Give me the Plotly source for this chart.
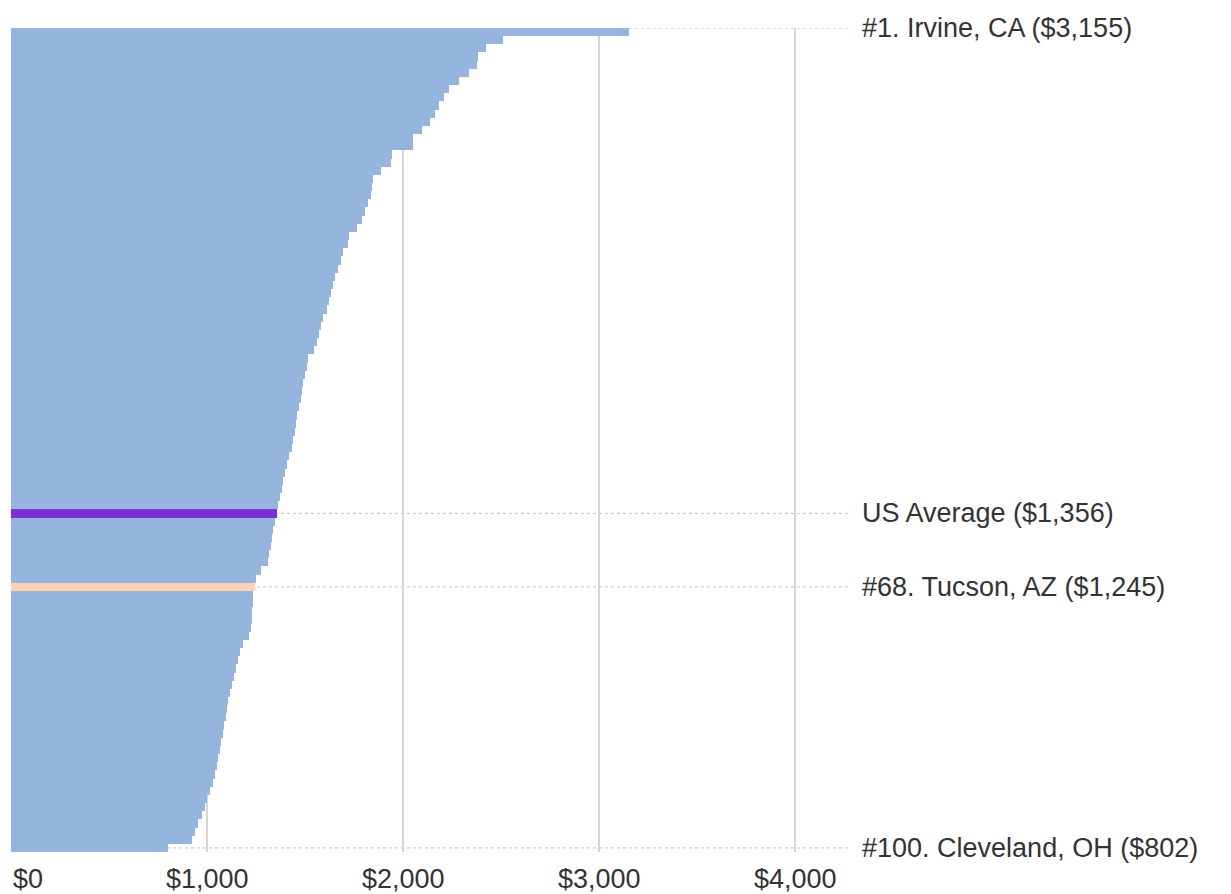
import plotly.graph_objects as go

# Monthly cost by city rank (1 = most expensive), in US dollars
ranks = list(range(1, 101))
costs = [
    3155, 2512, 2422, 2384, 2379, 2338, 2287, 2235, 2209, 2184,
    2163, 2138, 2095, 2053, 2050, 1942, 1940, 1886, 1849, 1843,
    1835, 1823, 1806, 1791, 1764, 1722, 1720, 1696, 1682, 1670,
    1655, 1645, 1633, 1624, 1611, 1594, 1580, 1573, 1560, 1546,
    1517, 1508, 1500, 1491, 1486, 1480, 1471, 1461, 1454, 1447,
    1440, 1432, 1420, 1410, 1398, 1389, 1381, 1372, 1364, 1349,
    1335, 1330, 1325, 1316, 1313, 1276, 1248, 1245, 1236, 1233,
    1231, 1228, 1223, 1216, 1182, 1168, 1160, 1148, 1140, 1129,
    1117, 1109, 1100, 1097, 1087, 1080, 1071, 1068, 1058, 1049,
    1041, 1029, 1015, 1002, 990, 973, 956, 939, 922, 802,
]
us_average = 1356

# Named cities that get a callout
named_cities = {1: "Irvine, CA", 68: "Tucson, AZ", 100: "Cleveland, OH"}
highlight_rank = 68

tick_values = [0, 1000, 2000, 3000, 4000]
tick_labels = ["$0", "$1,000", "$2,000", "$3,000", "$4,000"]

BLUE = "#95B4DE"
PURPLE = "#7B30D4"
PEACH = "#FDD1B2"
TEXT = "#333333"
FONT = "Liberation Sans, Arial, sans-serif"
FONT_SIZE = 27

# Combine cities and the national average, ordered from highest to lowest
entries = [("city", r, v) for r, v in zip(ranks, costs)] + [("avg", None, us_average)]
entries.sort(key=lambda e: -e[2])

rows = list(range(len(entries)))
values = [e[2] for e in entries]
colors = []
for kind, rank, _ in entries:
    if kind == "avg":
        colors.append(PURPLE)
    elif rank == highlight_rank:
        colors.append(PEACH)
    else:
        colors.append(BLUE)

fig = go.Figure(
    go.Bar(
        x=values,
        y=rows,
        orientation="h",
        marker=dict(color=colors, line=dict(width=0)),
        hoverinfo="skip",
    )
)

shapes = []
annotations = []


def callout(row, text):
    shapes.append(dict(
        type="line", xref="paper", yref="y", x0=0, x1=1, y0=row, y1=row,
        line=dict(color="#c0c0c0", width=1, dash="3px,3px"), layer="below",
    ))
    annotations.append(dict(
        xref="paper", yref="y", x=1, y=row, xanchor="left", yanchor="middle",
        xshift=10, text=text, showarrow=False,
        font=dict(family=FONT, size=FONT_SIZE, color=TEXT),
    ))


for row, (kind, rank, val) in enumerate(entries):
    if kind == "avg":
        callout(row, f"US Average (${val:,})")
    elif rank in named_cities:
        # the top entry's callout sits on the upper edge of the plot
        y = row - 0.5 if rank == 1 else row
        callout(y, f"#{rank}. {named_cities[rank]} (${val:,})")

for tv, tl in zip(tick_values, tick_labels):
    annotations.append(dict(
        xref="x", yref="paper", x=tv, y=0, yanchor="top",
        xanchor="left" if tv == 0 else "center", yshift=-10,
        text=tl, showarrow=False,
        font=dict(family=FONT, size=FONT_SIZE, color=TEXT),
    ))

fig.update_layout(
    width=1231,
    height=894,
    margin=dict(l=11, r=381, t=28, b=42),
    paper_bgcolor="white",
    plot_bgcolor="white",
    bargap=0,
    showlegend=False,
    shapes=shapes,
    annotations=annotations,
    xaxis=dict(
        range=[0, 4280],
        tickvals=tick_values[1:],
        showticklabels=False,
        showgrid=True,
        gridcolor="#d6d6d6",
        gridwidth=2,
        zeroline=False,
        showline=False,
        fixedrange=True,
    ),
    yaxis=dict(
        range=[len(entries) - 0.5, -0.5],
        showticklabels=False,
        showgrid=False,
        zeroline=False,
        showline=False,
        fixedrange=True,
    ),
)

fig.write_html("out.html", config={"displayModeBar": False})
